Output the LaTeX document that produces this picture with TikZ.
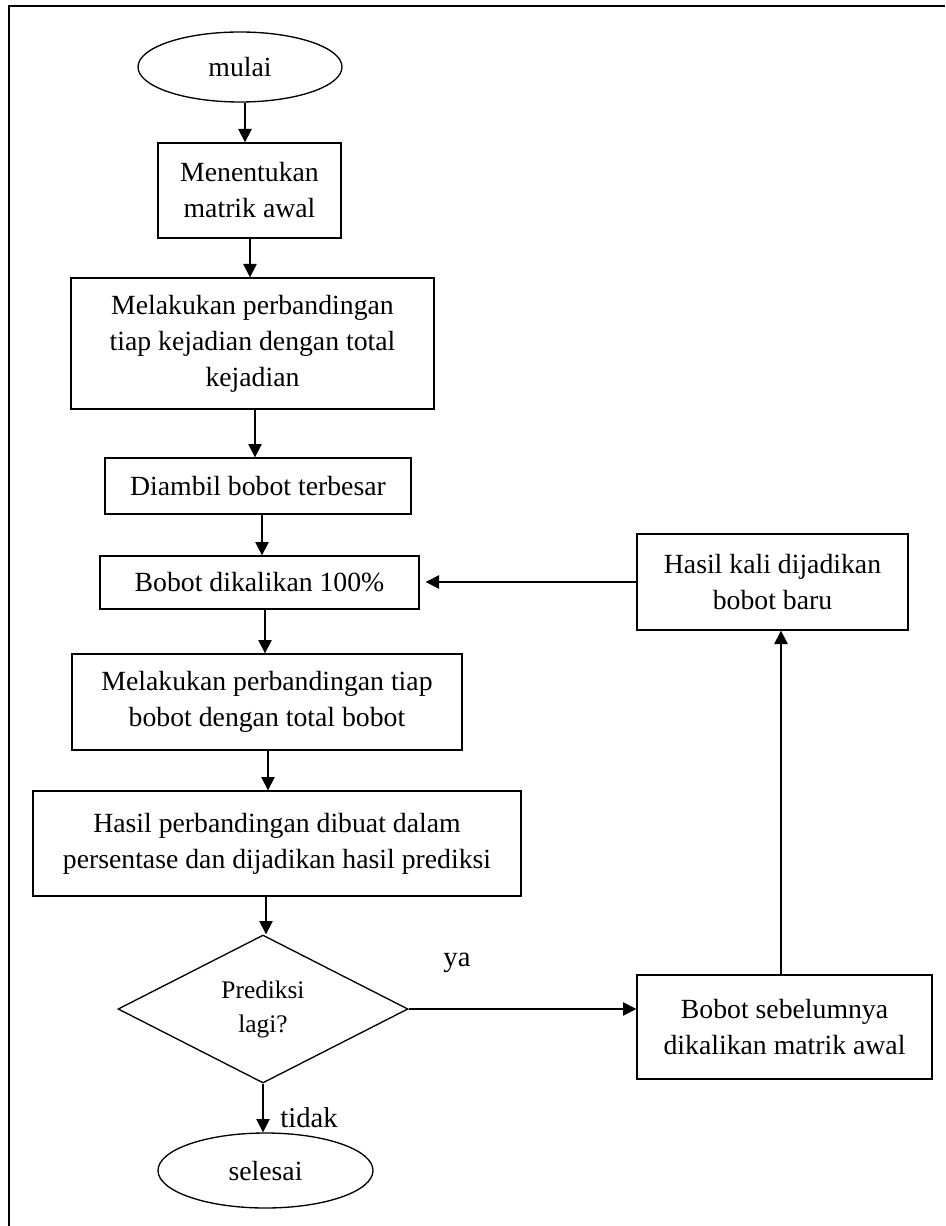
\documentclass[tikz,border=0pt]{standalone}
\usepackage{fontspec}
\setmainfont{Liberation Serif}
\usetikzlibrary{shapes.geometric,arrows.meta}
\tikzset{
  box/.style={draw, line width=1pt, rectangle, align=center, inner sep=0pt,
    font=\fontsize{20.8}{27}\selectfont},
  term/.style={draw, line width=1pt, ellipse, inner sep=0pt, align=center,
    font=\fontsize{20.8}{27}\selectfont},
  decide/.style={draw, line width=1pt, diamond, inner sep=0pt, align=center,
    font=\fontsize{19}{25.5}\selectfont},
  lbl/.style={inner sep=0pt, font=\fontsize{21.5}{26}\selectfont},
  arr/.style={line width=1pt, -{Triangle[length=10pt,width=10pt]}}
}
\begin{document}
\begin{tikzpicture}[x=0.75pt,y=-0.75pt]
\useasboundingbox (0,0) rectangle (945,1226);
\draw[line width=1.5pt] (9,1226) -- (9,6) -- (945,6);

\node[term, minimum width=153pt, minimum height=52.5pt] (start) at (240,67) {mulai};
\node[box, minimum width=137.25pt, minimum height=71.25pt] (b1) at (249.5,190.5) {Menentukan\\matrik awal};
\node[box, minimum width=272.25pt, minimum height=98.25pt] (b2) at (252.5,343.5) {Melakukan perbandingan\\tiap kejadian dengan total\\kejadian};
\node[box, minimum width=229.5pt, minimum height=42pt] (b3) at (258,486) {Diambil bobot terbesar};
\node[box, minimum width=239.25pt, minimum height=39.75pt] (b4) at (259.5,582.5) {Bobot dikalikan 100\%};
\node[box, minimum width=292.5pt, minimum height=72pt] (b5) at (267,702) {Melakukan perbandingan tiap\\bobot dengan total bobot};
\node[box, minimum width=366pt, minimum height=78.75pt] (b6) at (277,843.5) {Hasil perbandingan dibuat dalam\\persentase dan dijadikan hasil prediksi};
\node[decide, minimum width=217.5pt, minimum height=111pt] (dia) at (263,1009) {Prediksi\\lagi?};
\node[term, minimum width=161.25pt, minimum height=56.25pt] (end) at (265.5,1170.5) {selesai};
\node[box, minimum width=221.25pt, minimum height=78pt] (b8) at (784.5,1027) {Bobot sebelumnya\\dikalikan matrik awal};
\node[box, minimum width=203.25pt, minimum height=72pt] (b9) at (772.5,582) {Hasil kali dijadikan\\bobot baru};

\node[lbl] (ya) at (457,963) {ya};
\node[lbl] (tidak) at (309,1118) {tidak};

\draw[arr] (start.south -| 245,0) -- (b1.north -| 245,0);
\draw[arr] (b1.south -| 250,0) -- (b2.north -| 250,0);
\draw[arr] (b2.south -| 255,0) -- (b3.north -| 255,0);
\draw[arr] (b3.south -| 262,0) -- (b4.north -| 262,0);
\draw[arr] (b4.south -| 265,0) -- (b5.north -| 265,0);
\draw[arr] (b5.south -| 268,0) -- (b6.north -| 268,0);
\draw[arr] (b6.south -| 266,0) -- (dia.north -| 266,0);
\draw[arr] (dia.south) -- (end.north -| dia.south);
\draw[arr] (dia.east) -- (dia.east -| b8.west);
\draw[arr] (b8.north -| 781,0) -- (b9.south -| 781,0);
\draw[arr, shorten >=4.5pt] (b9.west) -- (b9.west -| b4.east);
\end{tikzpicture}
\end{document}
